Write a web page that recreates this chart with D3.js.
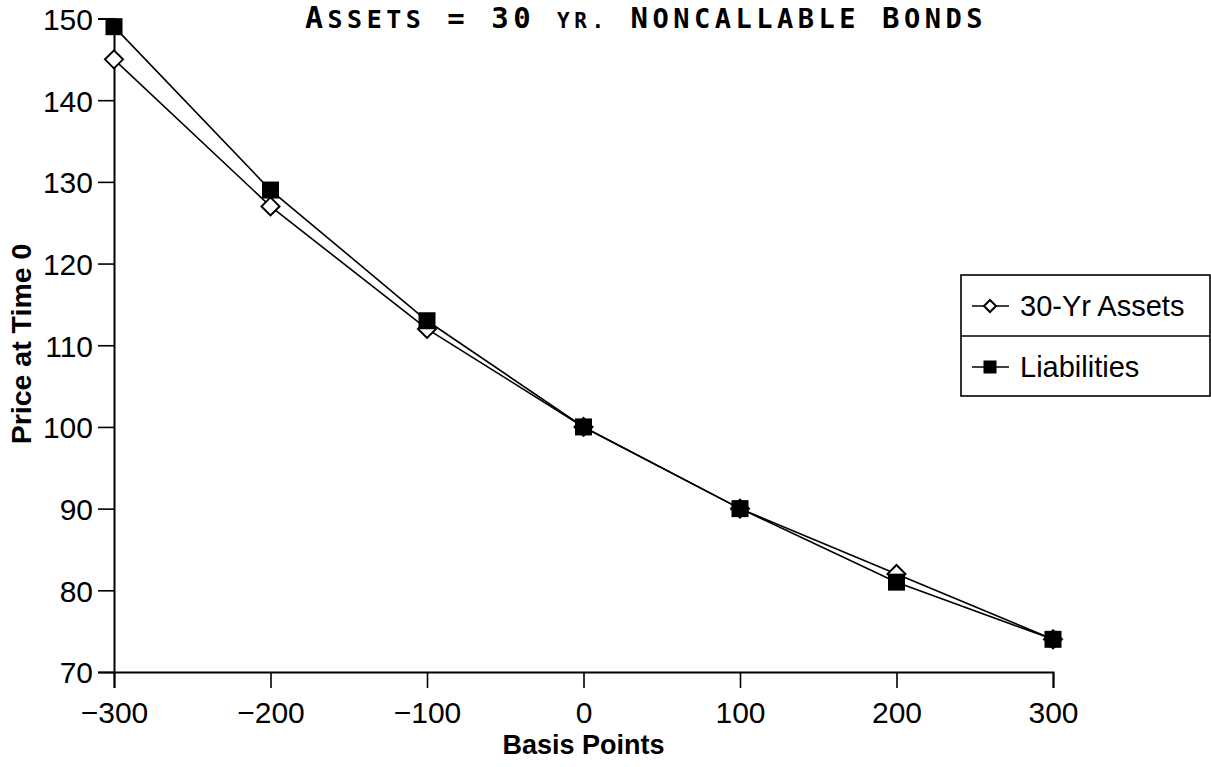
<!DOCTYPE html>
<html>
<head>
<meta charset="utf-8">
<script src="https://cdn.jsdelivr.net/npm/d3@7"></script>
<style>
    body { margin: 0; background: #fff; }
    text { fill: #000; }
</style>
</head>
<body>
<div id="chart"></div>
<script>
var basisPoints = [-300, -200, -100, 0, 100, 200, 300];
var assets = [145, 127, 112, 100, 90, 82, 74];
var liabilities = [149, 129, 113, 100, 90, 81, 74];
var yTicks = [70, 80, 90, 100, 110, 120, 130, 140, 150];
var seriesNames = ["30-Yr Assets", "Liabilities"];

var width = 1211, height = 767;
var font = "'Liberation Sans', Arial, sans-serif";

var svg = d3.select("#chart").append("svg")
    .attr("width", width)
    .attr("height", height);

var x = d3.scaleLinear().domain([-300, 300]).range([114, 1053]);
var y = d3.scaleLinear().domain([70, 150]).range([672, 18.5]);

// axes
var xAxis = svg.append("g")
    .attr("transform", "translate(0," + y(70) + ")")
    .call(d3.axisBottom(x).tickValues(basisPoints).tickSize(16).tickPadding(8)
        .tickFormat(function (d) { return d < 0 ? "\u2212" + Math.abs(d) : d; }));

var yAxis = svg.append("g")
    .attr("transform", "translate(" + x(-300) + ",0)")
    .call(d3.axisLeft(y).tickValues(yTicks).tickSize(16).tickPadding(5));

[xAxis, yAxis].forEach(function (a) {
    a.select(".domain").attr("stroke", "#000").attr("stroke-width", 2);
    a.selectAll(".tick line").attr("stroke", "#000").attr("stroke-width", 1.6);
    a.selectAll(".tick text").attr("font-family", font).attr("font-size", 30).attr("fill", "#000");
});
yAxis.selectAll(".tick text").attr("dy", "0.36em");
xAxis.selectAll(".tick text").attr("dy", "0.9em");

// axis titles
svg.append("text")
    .attr("x", x(0)).attr("y", 754)
    .attr("text-anchor", "middle")
    .attr("font-family", font).attr("font-weight", "bold").attr("font-size", 27)
    .text("Basis Points");

svg.append("text")
    .attr("transform", "translate(31,344) rotate(-90)")
    .attr("text-anchor", "middle")
    .attr("font-family", font).attr("font-weight", "bold").attr("font-size", 28.5)
    .text("Price at Time 0");

// title with small caps
var titleParts = [
    ["A", 30], ["SSETS", 25], [" = 30 ", 29], ["YR.", 21], [" N", 29],
    ["ONCALLABLE", 27], [" B", 29], ["ONDS", 27]
];
var title = svg.append("text")
    .attr("x", 305).attr("y", 28)
    .attr("font-family", "'DejaVu Sans Mono', monospace")
    .attr("font-weight", "bold")
    .attr("letter-spacing", 4.5);
title.selectAll("tspan").data(titleParts).enter().append("tspan")
    .attr("font-size", function (d) { return d[1]; })
    .text(function (d) { return d[0]; });

// lines
var line = d3.line()
    .x(function (d, i) { return x(basisPoints[i]); })
    .y(function (d) { return y(d); });

svg.append("path").datum(assets)
    .attr("d", line).attr("fill", "none").attr("stroke", "#000").attr("stroke-width", 1.6);
svg.append("path").datum(liabilities)
    .attr("d", line).attr("fill", "none").attr("stroke", "#000").attr("stroke-width", 1.6);

function diamond(g, cx, cy, r) {
    g.append("path")
        .attr("d", "M" + cx + "," + (cy - r) + "L" + (cx + r) + "," + cy + "L" + cx + "," + (cy + r) + "L" + (cx - r) + "," + cy + "Z")
        .attr("fill", "#fff").attr("stroke", "#000").attr("stroke-width", 2);
}
function square(g, cx, cy, s) {
    g.append("rect")
        .attr("x", cx - s / 2).attr("y", cy - s / 2)
        .attr("width", s).attr("height", s)
        .attr("fill", "#000");
}

var marks = svg.append("g");
assets.forEach(function (v, i) { diamond(marks, x(basisPoints[i]), y(v), 9); });
liabilities.forEach(function (v, i) { square(marks, x(basisPoints[i]), y(v), 17); });

// legend
var legend = svg.append("g");
legend.append("rect")
    .attr("x", 961).attr("y", 275).attr("width", 249).attr("height", 121)
    .attr("fill", "#fff").attr("stroke", "#000").attr("stroke-width", 1.6);
legend.append("line")
    .attr("x1", 961).attr("x2", 1210).attr("y1", 336).attr("y2", 336)
    .attr("stroke", "#000").attr("stroke-width", 1.6);

seriesNames.forEach(function (name, i) {
    var cy = 306 + i * 61;
    legend.append("line")
        .attr("x1", 972).attr("x2", 1009).attr("y1", cy).attr("y2", cy)
        .attr("stroke", "#000").attr("stroke-width", 1.6);
    if (i == 0) diamond(legend, 990, cy, 6);
    else square(legend, 990, cy, 13);
    legend.append("text")
        .attr("x", 1020).attr("y", cy).attr("dy", "0.36em")
        .attr("font-family", font).attr("font-size", 29)
        .text(name);
});
</script>
</body>
</html>
